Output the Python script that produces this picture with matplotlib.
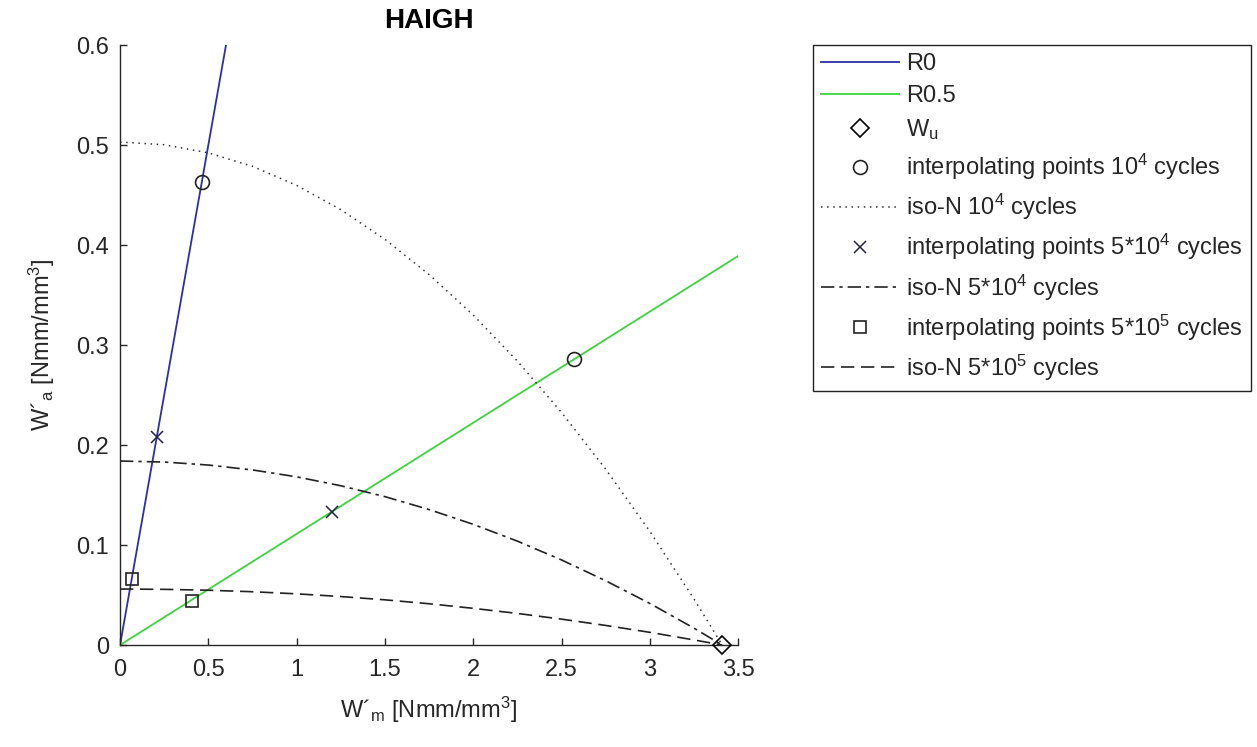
import numpy as np
import matplotlib
matplotlib.use('Agg')
import matplotlib.pyplot as plt

plt.rcParams['font.family'] = ['Liberation Sans', 'DejaVu Sans']
plt.rcParams['mathtext.fontset'] = 'custom'
plt.rcParams['mathtext.rm'] = 'Liberation Sans'
plt.rcParams['mathtext.it'] = 'Liberation Sans:italic'
plt.rcParams['mathtext.bf'] = 'Liberation Sans:bold'

# load lines (R ratios)
r0_x = [0.0, 0.6]
r0_y = [0.0, 0.6]
r05_x = [0.0, 3.5]
r05_y = [0.0, 0.389]

# ultimate energy
wu_x = [3.41]
wu_y = [0.0]

# interpolating points
pts_1e4_x = [0.463, 2.57]
pts_1e4_y = [0.463, 0.286]
pts_5e4_x = [0.21, 1.20]
pts_5e4_y = [0.208, 0.133]
pts_5e5_x = [0.068, 0.41]
pts_5e5_y = [0.066, 0.044]

# iso-N curves
iso_x = [0.0, 0.25, 0.5, 0.75, 1.0, 1.25, 1.5, 1.75, 2.0, 2.25, 2.5, 2.75, 3.0, 3.25, 3.41]
iso_1e4 = [0.503, 0.5003, 0.4922, 0.4787, 0.4597, 0.4354, 0.4057, 0.3705, 0.3300,
           0.2840, 0.2326, 0.1759, 0.1137, 0.0461, 0.0]
iso_5e4 = [0.184, 0.1830, 0.1800, 0.1751, 0.1682, 0.1593, 0.1484, 0.1355, 0.1207,
           0.1039, 0.0851, 0.0643, 0.0416, 0.0169, 0.0]
iso_5e5 = [0.056, 0.0557, 0.0548, 0.0533, 0.0512, 0.0485, 0.0452, 0.0413, 0.0367,
           0.0316, 0.0259, 0.0196, 0.0127, 0.0051, 0.0]

txt = '#262626'
fs = 17

fig = plt.figure(figsize=(12.57, 7.47), dpi=100)
ax = fig.add_axes([0.0955, 0.1365, 0.4917, 0.8032])

ax.plot(r0_x, r0_y, color='#2e2ea6', lw=1.3, label='R0')
ax.plot(r05_x, r05_y, color='#3cd43c', lw=1.3, label='R0.5')
ax.plot(wu_x, wu_y, 'D', mfc='none', mec='k', ms=9, mew=1.2, ls='none',
        label=r'W$_{\mathrm{u}}$', clip_on=False, zorder=5)
ax.plot(pts_1e4_x, pts_1e4_y, 'o', mfc='none', mec='#222222', ms=10, mew=1.2, ls='none',
        label=r'interpolating points 10$^{4}$ cycles', zorder=5)
ax.plot(iso_x, iso_1e4, color='#333333', lw=1.1, ls=(0, (1, 3)),
        label=r'iso-N 10$^{4}$ cycles')
ax.plot(pts_5e4_x, pts_5e4_y, 'x', mec='#222244', ms=8, mew=1.1, ls='none',
        label=r'interpolating points 5*10$^{4}$ cycles', zorder=5)
ax.plot(iso_x, iso_5e4, color='#222222', lw=1.2, ls=(0, (8, 3, 2, 3)),
        label=r'iso-N 5*10$^{4}$ cycles')
ax.plot(pts_5e5_x, pts_5e5_y, 's', mfc='none', mec='#222222', ms=9, mew=1.2, ls='none',
        label=r'interpolating points 5*10$^{5}$ cycles', zorder=5)
ax.plot(iso_x, iso_5e5, color='#222222', lw=1.2, ls=(0, (8, 4)),
        label=r'iso-N 5*10$^{5}$ cycles')

ax.set_xlim(0, 3.5)
ax.set_ylim(0, 0.6)
ax.set_xticks(np.arange(0, 3.51, 0.5))
ax.set_xticklabels(['0', '0.5', '1', '1.5', '2', '2.5', '3', '3.5'])
ax.set_yticks(np.arange(0, 0.61, 0.1))
ax.set_yticklabels(['0', '0.1', '0.2', '0.3', '0.4', '0.5', '0.6'])
ax.spines['top'].set_visible(False)
ax.spines['right'].set_visible(False)
for s in ['left', 'bottom']:
    ax.spines[s].set_color(txt)
    ax.spines[s].set_linewidth(1.0)
ax.tick_params(direction='in', length=5, width=1, colors=txt, labelsize=fs)
ax.tick_params(axis='x', pad=10)
ax.tick_params(axis='y', pad=8)

ax.set_title('HAIGH', fontsize=20, fontweight='bold', color='k', pad=12)
ax.set_xlabel(r'W´$_{\mathrm{m}}$ [Nmm/mm$^{3}$]', fontsize=fs, color=txt, labelpad=10)
ax.set_ylabel(r'W´$_{\mathrm{a}}$ [Nmm/mm$^{3}$]', fontsize=fs, color=txt, labelpad=14)

leg = ax.legend(loc='upper left', bbox_to_anchor=(1.121, 1.0), fontsize=fs,
                handlelength=3.3, handletextpad=0.3, borderpad=0.35,
                labelspacing=0.42, fancybox=False, framealpha=1, borderaxespad=0)
leg.get_frame().set_edgecolor('#222222')
leg.get_frame().set_linewidth(1.0)
for t in leg.get_texts():
    t.set_color(txt)

fig.savefig('out.png', dpi=100)
